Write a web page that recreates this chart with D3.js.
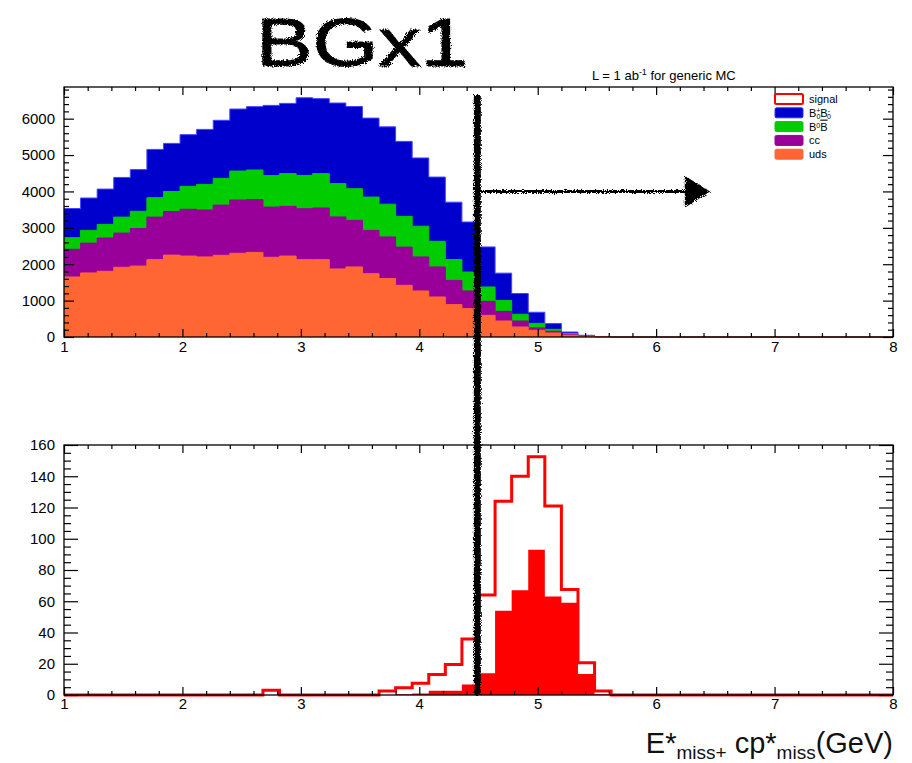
<!DOCTYPE html>
<html>
<head>
<meta charset="utf-8">
<script src="https://cdn.jsdelivr.net/npm/d3@7"></script>
<style>
body { margin: 0; background: #fff; }
text { font-family: "Liberation Sans", Arial, Helvetica, sans-serif; }
</style>
</head>
<body>
<div id="chart"></div>
<script>
// binning: 50 bins between 1 and 8 GeV
var xMin = 1, xMax = 8, nBins = 50
var binEdges = d3.range(nBins + 1).map(function(i) { return xMin + i * (xMax - xMin) / nBins })

// generic MC background, events per bin (stack order bottom -> top)
var uds   = [1650,1760,1805,1915,1950,2125,2250,2225,2200,2245, 2300,2325,2190,2225,2125,2125,1870,1925,1740,1605,
             1420,1265,1100,890,780,595,440,275,185,110, 50,18,6,0,0,0,0,0,0,0, 0,0,0,0,0,0,0,0,0,0]
var cc    = [760,820,915,940,1030,1170,1200,1285,1290,1380, 1465,1450,1380,1365,1400,1420,1430,1280,1190,1145,
             1050,935,825,665,485,385,265,165,65,46, 20,6,2,0,0,0,0,0,0,0, 0,0,0,0,0,0,0,0,0,0]
var bzero = [320,350,375,440,475,535,550,630,705,735, 795,815,865,900,915,945,915,870,915,900,
             845,845,705,575,520,395,300,185,125,55, 25,8,3,0,0,0,0,0,0,0, 0,0,0,0,0,0,0,0,0,0]
var bplus = [800,890,970,1090,1145,1325,1320,1420,1510,1595, 1705,1740,1930,1930,2135,2060,2215,2260,2170,2125,
             2060,1875,1765,1575,1375,1100,750,570,305,157, 42,15,4,0,0,0,0,0,0,0, 0,0,0,0,0,0,0,0,0,0]

// signal MC (open = all, filled = after selection)
var signalAll = [0,0,0,0,0,0,0,0,0,0, 0,0,3,0,0,0,0,0,0,2.6,
                 4.7,7.5,13.2,19.6,35.8,64,124,140,152.5,121, 67.6,20.7,2.5,0,0,0,0,0,0,0, 0,0,0,0,0,0,0,0,0,0]
var signalCut = [0,0,0,0,0,0,0,0,0,0, 0,0,0,0,0,0,0,0,0,0,
                 0.5,1,2.8,2.8,6.8,14,54,67,93,63, 59,13.4,0.5,0,0,0,0,0,0,0, 0,0,0,0,0,0,0,0,0,0]

var topTicks = [0,1000,2000,3000,4000,5000,6000]
var botTicks = [0,20,40,60,80,100,120,140,160]
var xTicks = [1,2,3,4,5,6,7,8]

var legendItems = [
    {key:"signal", fill:"#fff", stroke:"#ff0000"},
    {key:"bplus", fill:"#0000cc", stroke:"#3333ee"},
    {key:"bzero", fill:"#00cc00", stroke:"#00cc00"},
    {key:"cc", fill:"#990099", stroke:"#990099"},
    {key:"uds", fill:"#ff6633", stroke:"#ff6633"}
]
var colors = {uds:"#ff6633", cc:"#990099", bzero:"#00cc00", bplus:"#0000cc"}

// hand drawn marks
var cutX = 4.49, cutTop = 6650, arrowY = 4000, arrowEnd = 6.44

var W = 912, H = 763
var svg = d3.select("#chart").append("svg").attr("width", W).attr("height", H)
svg.append("rect").attr("width", W).attr("height", H).attr("fill", "#fff")

var defs = svg.append("defs")
var f = defs.append("filter").attr("id", "rough").attr("x", "-20%").attr("y", "-20%").attr("width", "140%").attr("height", "140%")
f.append("feTurbulence").attr("type", "fractalNoise").attr("baseFrequency", 1.1).attr("numOctaves", 2).attr("result", "noise")
f.append("feDisplacementMap").attr("in", "SourceGraphic").attr("in2", "noise").attr("scale", 5)

var x = d3.scaleLinear().domain([xMin, xMax]).range([64, 893])
var yTop = d3.scaleLinear().domain([0, 6870]).range([337, 87])
var yBot = d3.scaleLinear().domain([0, 160]).range([695, 445])

// ---------- top pad: stacked background ----------
var rows = binEdges.map(function(e, i) {
    var j = Math.min(i, nBins - 1)
    return {x:e, uds:uds[j], cc:cc[j], bzero:bzero[j], bplus:bplus[j]}
})
var layers = d3.stack().keys(["uds", "cc", "bzero", "bplus"])(rows)

var gTop = svg.append("g")
layers.slice().reverse().forEach(function(layer) {
    var area = d3.area().curve(d3.curveStepAfter)
        .x(function(d) { return x(d.data.x) })
        .y0(yTop(0))
        .y1(function(d) { return yTop(d[1]) })
    gTop.append("path").attr("d", area(layer)).attr("fill", colors[layer.key])
    var line = d3.line().curve(d3.curveStepAfter)
        .x(function(d) { return x(d.data.x) })
        .y(function(d) { return yTop(d[1]) })
    gTop.append("path").attr("d", line(layer)).attr("fill", "none")
        .attr("stroke", layer.key == "bplus" ? "#4444ff" : colors[layer.key]).attr("stroke-width", 1)
})

// ---------- bottom pad: signal ----------
var sigRows = binEdges.map(function(e, i) {
    var j = Math.min(i, nBins - 1)
    return {x:e, all:signalAll[j], cut:signalCut[j]}
})
var gBot = svg.append("g")
gBot.append("path")
    .attr("d", d3.area().curve(d3.curveStepAfter)
        .x(function(d) { return x(d.x) }).y0(yBot(0)).y1(function(d) { return yBot(d.cut) })(sigRows))
    .attr("fill", "#ff0000")
gBot.append("path")
    .attr("d", d3.line().curve(d3.curveStepAfter)
        .x(function(d) { return x(d.x) }).y(function(d) { return yBot(d.all) })(sigRows))
    .attr("fill", "none").attr("stroke", "#ff0000").attr("stroke-width", 3)

// ---------- frames and axes ----------
function drawFrame(y, majors, minorStep, yMaj, yMin, xPad) {
    var top = y.range()[1], bottom = y.range()[0]
    var yMinor = d3.range(0, y.domain()[1] + 0.001, minorStep).filter(function(v) { return majors.indexOf(v) < 0 })
    var xMinor = d3.range(0, 36).map(function(i) { return 1 + i * 0.2 }).filter(function(v) { return Math.abs(v - Math.round(v)) > 0.01 })
    var g = svg.append("g")

    function style(sel) {
        sel.select(".domain").remove()
        sel.selectAll("line").attr("stroke", "#000").attr("stroke-width", 1.2)
        sel.selectAll("text").attr("font-size", 15).attr("font-family", "Liberation Sans, Arial, sans-serif").attr("fill", "#000")
    }
    g.append("g").attr("transform", "translate(0," + bottom + ")")
        .call(d3.axisBottom(x).tickValues(xTicks).tickSize(-8).tickPadding(xPad).tickFormat(d3.format("d"))).call(style)
    g.append("g").attr("transform", "translate(0," + bottom + ")")
        .call(d3.axisBottom(x).tickValues(xMinor).tickSize(-4).tickFormat("")).call(style)
    g.append("g").attr("transform", "translate(0," + top + ")")
        .call(d3.axisTop(x).tickValues(xTicks).tickSize(-8).tickFormat("")).call(style)
    g.append("g").attr("transform", "translate(0," + top + ")")
        .call(d3.axisTop(x).tickValues(xMinor).tickSize(-4).tickFormat("")).call(style)
    g.append("g").attr("transform", "translate(64,0)")
        .call(d3.axisLeft(y).tickValues(majors).tickSize(-yMaj).tickPadding(9).tickFormat(d3.format("d"))).call(style)
    g.append("g").attr("transform", "translate(64,0)")
        .call(d3.axisLeft(y).tickValues(yMinor).tickSize(-yMin).tickFormat("")).call(style)
    g.append("g").attr("transform", "translate(893,0)")
        .call(d3.axisRight(y).tickValues(majors).tickSize(-yMaj).tickFormat("")).call(style)
    g.append("g").attr("transform", "translate(893,0)")
        .call(d3.axisRight(y).tickValues(yMinor).tickSize(-yMin).tickFormat("")).call(style)
    g.append("rect").attr("x", 64).attr("y", top).attr("width", 893 - 64).attr("height", bottom - top)
        .attr("fill", "none").attr("stroke", "#000").attr("stroke-width", 1.3)
}
drawFrame(yTop, topTicks, 200, 10, 5, 4)
drawFrame(yBot, botTicks, 5, 14, 7, 3)

// ---------- legend ----------
var leg = svg.append("g").attr("font-size", 11)
legendItems.forEach(function(d, i) {
    var cy = 99 + i * 13.8
    leg.append("rect").attr("x", 775).attr("y", cy - 5).attr("width", 28).attr("height", 10).attr("rx", 1.5)
        .attr("fill", d.fill).attr("stroke", d.stroke).attr("stroke-width", d.key == "signal" ? 2 : 1)
    var t = leg.append("text").attr("x", 809).attr("y", cy + 4).attr("font-size", 11)
    if (d.key == "bplus") {
        t.append("tspan").text("B")
        t.append("tspan").attr("font-size", 7).attr("dy", -4).text("+")
        t.append("tspan").attr("font-size", 7).attr("dx", -4).attr("dy", 6).text("0")
        t.append("tspan").attr("dy", -2).text("B")
        t.append("tspan").attr("font-size", 7).attr("dy", -4).text("-")
        t.append("tspan").attr("font-size", 7).attr("dx", -3).attr("dy", 6).text("0")
    } else if (d.key == "bzero") {
        t.append("tspan").text("B")
        t.append("tspan").attr("font-size", 7).attr("dy", -3).text("0")
        t.append("tspan").attr("dy", 3).attr("text-decoration", "overline").text("B")
    } else {
        t.text(d.key)
    }
})

// luminosity label
var lum = svg.append("text").attr("x", 592).attr("y", 80).attr("font-size", 13)
lum.append("tspan").text("L = 1 ab")
lum.append("tspan").attr("font-size", 9).attr("dy", -5).text("-1")
lum.append("tspan").attr("dy", 5).text(" for generic MC")

// x axis title
var xt = svg.append("text").attr("x", 893).attr("y", 753).attr("text-anchor", "end")
    .attr("font-size", 29).attr("fill", "#111")
xt.append("tspan").text("E*")
xt.append("tspan").attr("font-size", 19).attr("dy", 6).text("miss+")
xt.append("tspan").attr("dy", -6).text(" cp*")
xt.append("tspan").attr("font-size", 19).attr("dy", 6).text("miss")
xt.append("tspan").attr("dy", -6).text("(GeV)")

// ---------- hand drawn annotations ----------
var ink = svg.append("g").attr("filter", "url(#rough)")
ink.append("text").attr("x", 256).attr("y", 66).attr("font-size", 68)
    .attr("font-family", "DejaVu Sans, sans-serif").attr("textLength", 212).attr("lengthAdjust", "spacingAndGlyphs")
    .attr("fill", "#000").attr("stroke", "#000").attr("stroke-width", 1).text("BGx1")
ink.append("path")
    .attr("d", "M" + x(cutX) + "," + yTop(cutTop) + "L" + x(cutX) + "," + yBot(0))
    .attr("stroke", "#000").attr("stroke-width", 7).attr("fill", "none")
ink.append("path")
    .attr("d", "M" + x(cutX) + "," + yTop(arrowY) + "L" + x(arrowEnd - 0.15) + "," + yTop(arrowY))
    .attr("stroke", "#000").attr("stroke-width", 3).attr("fill", "none")
ink.append("path")
    .attr("d", "M" + x(arrowEnd - 0.19) + "," + yTop(arrowY + 380) + "L" + x(arrowEnd) + "," + yTop(arrowY)
        + "L" + x(arrowEnd - 0.19) + "," + yTop(arrowY - 400) + "Z")
    .attr("fill", "#000").attr("stroke", "#000").attr("stroke-width", 2)
</script>
</body>
</html>
